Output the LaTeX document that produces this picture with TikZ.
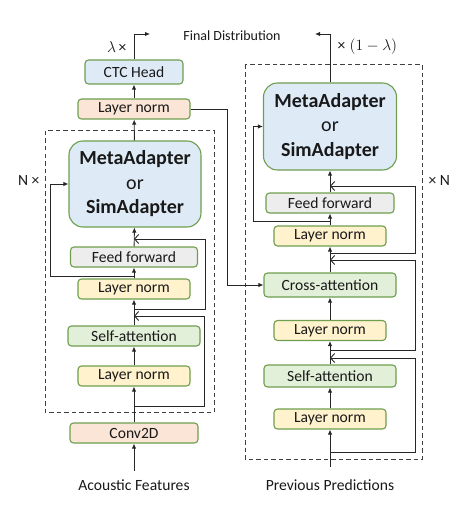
\RequirePackage{fix-cm}
\documentclass[tikz,border=0pt]{standalone}
\usepackage{fontspec}
\setmainfont{Carlito}
\usetikzlibrary{arrows.meta}
\definecolor{boxline}{HTML}{6E9E4E}
\definecolor{blueF}{HTML}{DEEBF7}
\definecolor{peachF}{HTML}{FBE5D6}
\definecolor{yellowF}{HTML}{FFF2CC}
\definecolor{greenF}{HTML}{E2F0D9}
\definecolor{grayF}{HTML}{EDEDED}
\definecolor{wire}{HTML}{262626}

\begin{document}
\begin{tikzpicture}[x=1pt,y=-1pt,
  blk/.style={draw=boxline, line width=1.1pt, rounded corners=3.5pt, inner sep=0pt, text=black!90,
    font=\fontsize{15.6}{18}\selectfont},
  lnorm/.style={blk, fill=yellowF, minimum width=112pt, minimum height=20pt},
  adapter/.style={blk, fill=blueF, rounded corners=14pt, minimum width=132pt, minimum height=86pt,
    align=center, font=\fontsize{20}{24.5}\selectfont},
  arr/.style={draw=wire, line width=0.9pt, -{Latex[length=5pt,width=4.5pt]}},
  res/.style={draw=wire, line width=0.9pt, -{Straight Barb[length=4pt,width=9pt]}},
  frame/.style={draw=black!75, line width=1pt, dash pattern=on 4.5pt off 3pt},
  lbl/.style={font=\fontsize{15.6}{18}\selectfont, text=black!90}]
\useasboundingbox (0,0) rectangle (469,513);

\draw[frame] (45,131) rectangle (214,412);
\draw[frame] (245,65) rectangle (422,459);

\node[blk, fill=blueF, minimum width=98pt, minimum height=24pt] (ctc) at (134,72) {CTC Head};
\node[lnorm, fill=peachF] (lnTop) at (134,109) {Layer norm};
\node[adapter] (adL) at (135,184) {\textbf{MetaAdapter}\\or\\\textbf{SimAdapter}};
\node[blk, fill=grayF, minimum width=127pt, minimum height=20pt] (ffL) at (134,257) {Feed forward};
\node[lnorm] (lnL2) at (134,289) {Layer norm};
\node[blk, fill=greenF, minimum width=132pt, minimum height=20pt] (saL) at (134,336) {Self-attention};
\node[lnorm] (lnL1) at (134,376) {Layer norm};
\node[blk, fill=peachF, minimum width=128pt, minimum height=20pt] (conv) at (134,433) {Conv2D};
\node[lbl] (acoustic) at (134,485) {Acoustic Features};
\coordinate (inL) at (134,471);

\node[adapter, minimum width=133pt, minimum height=87pt] (adR) at (330,126.5) {\textbf{MetaAdapter}\\or\\\textbf{SimAdapter}};
\node[blk, fill=grayF, minimum width=128pt, minimum height=20pt] (ffR) at (330,203) {Feed forward};
\node[lnorm] (lnR3) at (330,236) {Layer norm};
\node[blk, fill=greenF, minimum width=132pt, minimum height=24pt] (caR) at (330,285) {Cross-attention};
\node[lnorm] (lnR2) at (330,330.5) {Layer norm};
\node[blk, fill=greenF, minimum width=132pt, minimum height=22pt] (saR) at (330,376) {Self-attention};
\node[lnorm] (lnR1) at (330,419) {Layer norm};
\node[lbl] (previous) at (330,485) {Previous Predictions};
\coordinate (inR) at (330,467);

\node[lbl, font=\fontsize{14}{16}\selectfont] (final) at (232,36) {Final Distribution};
\coordinate (fdL) at (150,34);
\coordinate (fdR) at (315,34);
\node[lbl, anchor=east] (lamL) at (130,47) {$\lambda\,$×};
\node[lbl, anchor=west] (lamR) at (334,47) {×\;$(1-\lambda)$};
\node[lbl, anchor=east] (nL) at (43,180) {N ×};
\node[lbl, anchor=west] (nR) at (425,180) {× N};

\draw[arr] (inL) -- (conv);
\draw[arr] (conv) -- (lnL1);
\draw[arr] (lnL1) -- (saL);
\draw[arr] (saL) -- (lnL2);
\draw[arr] (lnL2) -- (ffL);
\draw[arr] (ffL) -- (adL);
\draw[arr] (adL) -- (lnTop);
\draw[arr] (lnTop) -- (ctc);
\draw[arr] (ctc.north) |- (fdL);

\coordinate (jL1) at (134,406);
\coordinate (rL1) at (134,316);
\coordinate (jL2) at (134,309);
\coordinate (rL2) at (134,239);
\coordinate (sL) at (134,276);
\draw[res] (jL1) -- ++(70,0) |- (rL1);
\draw[res] (jL2) -- ++(71,0) |- (rL2);
\draw[arr] (sL) -- ++(-84,0) |- (adL.west);
\draw[arr] (lnTop.east) -- ++(37,0) |- (caR.west);

\draw[arr] (inR) -- (lnR1);
\draw[arr] (lnR1) -- (saR);
\draw[arr] (saR) -- (lnR2);
\draw[arr] (lnR2) -- (caR);
\draw[arr] (caR) -- (lnR3);
\draw[arr] (lnR3) -- (ffR);
\draw[arr] (ffR) -- (adR);
\draw[arr] (adR.north) |- (fdR);

\coordinate (jR1) at (330,452);
\coordinate (rR1) at (330,358);
\coordinate (jR2) at (330,350);
\coordinate (rR2) at (330,260);
\coordinate (jR3) at (330,253);
\coordinate (rR3) at (330,186);
\coordinate (sR) at (330,221);
\draw[res] (jR1) -- ++(85,0) |- (rR1);
\draw[res] (jR2) -- ++(85,0) |- (rR2);
\draw[res] (jR3) -- ++(85,0) |- (rR3);
\draw[arr] (sR) -- ++(-77,0) |- (adR.west);
\end{tikzpicture}
\end{document}
